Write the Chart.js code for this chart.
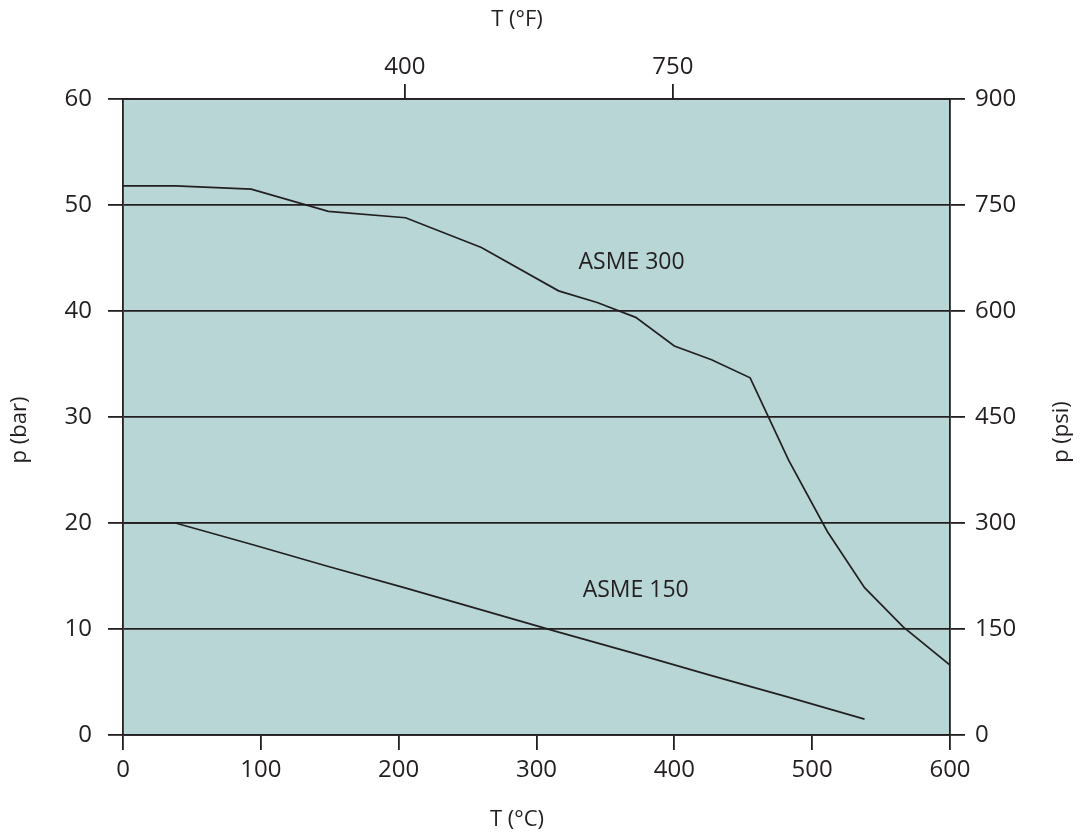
<!DOCTYPE html>
<html>
<head>
<meta charset="utf-8">
<script src="https://cdn.jsdelivr.net/npm/chart.js@4.4.1/dist/chart.umd.min.js"></script>
<style>
  html, body { margin: 0; padding: 0; background: #ffffff; }
  #wrap { width: 1085px; height: 840px; }
</style>
</head>
<body>
<div id="wrap"><canvas id="c" width="1085" height="840"></canvas></div>
<script>
// ---- data (T in °C, p in bar) ----
const asme300T = [0, 38, 93, 149, 205, 260, 316, 344, 372, 400, 427, 455, 483, 511, 538, 566, 600];
const asme300P = [51.8, 51.8, 51.5, 49.4, 48.8, 46.0, 41.9, 40.8, 39.4, 36.7, 35.4, 33.7, 25.9, 19.2, 13.9, 10.2, 6.6];
const asme150T = [0, 38, 93, 149, 204, 260, 316, 371, 427, 482, 538];
const asme150P = [20.0, 20.0, 18.0, 15.9, 13.9, 11.8, 9.7, 7.7, 5.6, 3.6, 1.5];
const seriesNames = ['ASME 300', 'ASME 150'];
const labelT = [369, 372];      // label anchor (°C)
const labelP = [44.6, 13.6];    // label anchor (bar)
const topTicksF = [400, 750];   // °F ticks on top axis
const xRangeC = [0, 600];
const yRangeBar = [0, 60];
const yRangePsi = [0, 900];
const xStepC = 100, yStepBar = 10, yStepPsi = 150;
const titles = { bottom: 'T (°C)', top: 'T (°F)', left: 'p (bar)', right: 'p (psi)' };

const toF = c => c * 9 / 5 + 32;
const ink = '#231f20';
const FONT = '"Open Sans", "DejaVu Sans", sans-serif';

const bgPlugin = {
  id: 'bg',
  beforeDraw(chart) {
    const { ctx, chartArea: a } = chart;
    ctx.save();
    ctx.fillStyle = '#b8d6d6';
    ctx.fillRect(a.left, a.top, a.right - a.left, a.bottom - a.top);
    ctx.restore();
  }
};

const textPlugin = {
  id: 'texts',
  afterDraw(chart) {
    const { ctx } = chart;
    const x = chart.scales.x, y = chart.scales.y;
    ctx.save();
    ctx.fillStyle = ink;
    ctx.font = '23px ' + FONT;
    ctx.textAlign = 'center';
    ctx.textBaseline = 'middle';
    seriesNames.forEach((n, i) => {
      ctx.fillText(n, x.getPixelForValue(labelT[i]), y.getPixelForValue(labelP[i]));
    });
    // axis titles
    ctx.font = '22px ' + FONT;
    ctx.fillText(titles.top, 517, 20);
    ctx.fillText(titles.bottom, 517, 820);
    ctx.save();
    ctx.translate(20, 430);
    ctx.rotate(-Math.PI / 2);
    ctx.fillText(titles.left, 0, 0);
    ctx.restore();
    ctx.save();
    ctx.translate(1062, 432);
    ctx.rotate(-Math.PI / 2);
    ctx.fillText(titles.right, 0, 0);
    ctx.restore();
    ctx.restore();
  }
};

const tickFont = { family: FONT, size: 24 };

new Chart(document.getElementById('c'), {
  type: 'line',
  data: {
    datasets: [
      {
        label: seriesNames[0],
        data: asme300T.map((t, i) => ({ x: t, y: asme300P[i] })),
        borderColor: ink, borderWidth: 1.7, pointRadius: 0, tension: 0, fill: false
      },
      {
        label: seriesNames[1],
        data: asme150T.map((t, i) => ({ x: t, y: asme150P[i] })),
        borderColor: ink, borderWidth: 1.7, pointRadius: 0, tension: 0, fill: false
      }
    ]
  },
  options: {
    responsive: false,
    animation: false,
    events: [],
    layout: { padding: 0 },
    plugins: { legend: { display: false }, tooltip: { enabled: false }, title: { display: false } },
    scales: {
      x: {
        type: 'linear', position: 'bottom',
        min: xRangeC[0], max: xRangeC[1],
        ticks: { stepSize: xStepC, color: ink, font: tickFont, padding: 6, maxRotation: 0 },
        grid: { drawOnChartArea: false, drawTicks: true, tickLength: 15, color: ink, lineWidth: 1.8 },
        border: { display: true, color: ink, width: 1.8 },
        afterFit(s) { s.height = 105; }
      },
      x2: {
        type: 'linear', position: 'top',
        min: toF(xRangeC[0]), max: toF(xRangeC[1]),
        afterBuildTicks(s) { s.ticks = topTicksF.map(v => ({ value: v })); },
        ticks: { color: ink, font: tickFont, padding: 2, maxRotation: 0 },
        grid: { drawOnChartArea: false, drawTicks: true, tickLength: 15, color: ink, lineWidth: 1.8 },
        border: { display: true, color: ink, width: 1.8 },
        afterFit(s) { s.height = 99; }
      },
      y: {
        type: 'linear', position: 'left',
        min: yRangeBar[0], max: yRangeBar[1],
        ticks: { stepSize: yStepBar, color: ink, font: tickFont, padding: 16 },
        grid: { drawOnChartArea: true, drawTicks: true, tickLength: 15, color: ink, lineWidth: 1.8 },
        border: { display: true, color: ink, width: 1.8 },
        afterFit(s) { s.width = 123; }
      },
      y2: {
        type: 'linear', position: 'right',
        min: yRangePsi[0], max: yRangePsi[1],
        ticks: { stepSize: yStepPsi, color: ink, font: tickFont, padding: 10 },
        grid: { drawOnChartArea: false, drawTicks: true, tickLength: 15, color: ink, lineWidth: 1.8 },
        border: { display: true, color: ink, width: 1.8 },
        afterFit(s) { s.width = 135; }
      }
    }
  },
  plugins: [bgPlugin, textPlugin]
});
</script>
</body>
</html>
